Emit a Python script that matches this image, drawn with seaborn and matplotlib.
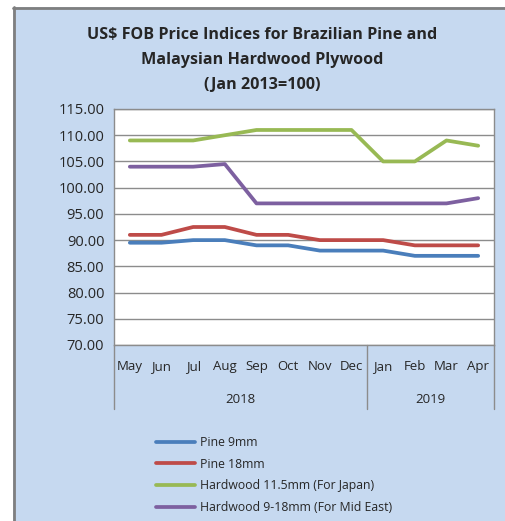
import numpy as np
import pandas as pd
import seaborn as sns
import matplotlib.pyplot as plt
from matplotlib.patches import Rectangle
from matplotlib.lines import Line2D

sns.set_style("white")
plt.rcParams['font.family'] = ['Open Sans', 'DejaVu Sans']

# data
months = ["May", "Jun", "Jul", "Aug", "Sep", "Oct", "Nov", "Dec", "Jan", "Feb", "Mar", "Apr"]
years = ["2018", "2019"]
months_per_year = [8, 4]
pine_9 = [89.5, 89.5, 90, 90, 89, 89, 88, 88, 88, 87, 87, 87]
pine_18 = [91, 91, 92.5, 92.5, 91, 91, 90, 90, 90, 89, 89, 89]
hw_japan = [109, 109, 109, 110, 111, 111, 111, 111, 105, 105, 109, 108]
hw_mideast = [104, 104, 104, 104.5, 97, 97, 97, 97, 97, 97, 97, 98]
series_names = ["Pine 9mm", "Pine 18mm", "Hardwood 11.5mm (For Japan)", "Hardwood 9-18mm (For Mid East)"]
colors = ["#4a7ebb", "#be4b48", "#98b954", "#7d60a0"]

df = pd.DataFrame({"pos": list(range(len(months))) * 4,
                   "value": pine_9 + pine_18 + hw_japan + hw_mideast,
                   "series": np.repeat(series_names, len(months))})

fig = plt.figure(figsize=(5.05, 5.21), dpi=100)
fig.patch.set_facecolor("white")
bg = "#c6d9f0"
fig.patches.append(Rectangle((13/505, 0), 1, 1 - 7/521, transform=fig.transFigure,
                             facecolor=bg, edgecolor="none", zorder=-2))
fig.lines.append(Line2D([14/505, 14/505], [0, 1 - 7/521], transform=fig.transFigure,
                        color="#7f7f7f", lw=2))
fig.lines.append(Line2D([13/505, 1], [1 - 8/521, 1 - 8/521], transform=fig.transFigure,
                        color="#7f7f7f", lw=2))

ax = fig.add_axes([114/505, 1 - 345/521, 380/505, 236/521])
sns.lineplot(data=df, x="pos", y="value", hue="series", palette=colors,
             linewidth=2.7, ax=ax, legend=False)

ax.set_xlim(-0.5, 11.5)
ax.set_ylim(70, 115)
ax.set_yticks(np.arange(70, 116, 5))
ax.set_yticklabels([f"{v:.2f}" for v in np.arange(70, 116, 5)], fontsize=10.5)
ax.yaxis.grid(True, color="#8c8c8c", lw=1)
ax.set_axisbelow(True)
for s in ax.spines.values():
    s.set_color("#8c8c8c")
    s.set_linewidth(1)
ax.tick_params(axis="y", length=0, pad=7)
ax.set_xticks([])
ax.set_xlabel("")
ax.set_ylabel("")

# multi-level category axis
for i, m in enumerate(months):
    ax.text(i, -0.09, m, transform=ax.get_xaxis_transform(), ha="center", va="center", fontsize=9.5)
start = 0
bounds = [-0.5]
for y, n in zip(years, months_per_year):
    ax.text(start + n / 2 - 0.5, -0.23, y, transform=ax.get_xaxis_transform(),
            ha="center", va="center", fontsize=9.5)
    start += n
    bounds.append(start - 0.5)
for b in bounds:
    ax.plot([b, b], [0, -0.27], transform=ax.get_xaxis_transform(), color="#8c8c8c",
            lw=1, clip_on=False)

title_lines = ["US$ FOB Price Indices for Brazilian Pine and", "Malaysian Hardwood Plywood", "(Jan 2013=100)"]
for k, t in enumerate(title_lines):
    fig.text(262/505, 1 - (35 + 25 * k)/521, t, ha="center", va="center",
             fontsize=11.6, fontweight="bold")

handles = [Line2D([], [], color=c, lw=2.7) for c in colors]
fig.legend(handles, series_names, loc="upper left", bbox_to_anchor=(151/505, 1 - 431/521),
           frameon=False, fontsize=8.8, handlelength=3.2, handletextpad=0.4,
           labelspacing=0.72, borderaxespad=0)

fig.savefig("out.png", dpi=100, facecolor=fig.get_facecolor())
